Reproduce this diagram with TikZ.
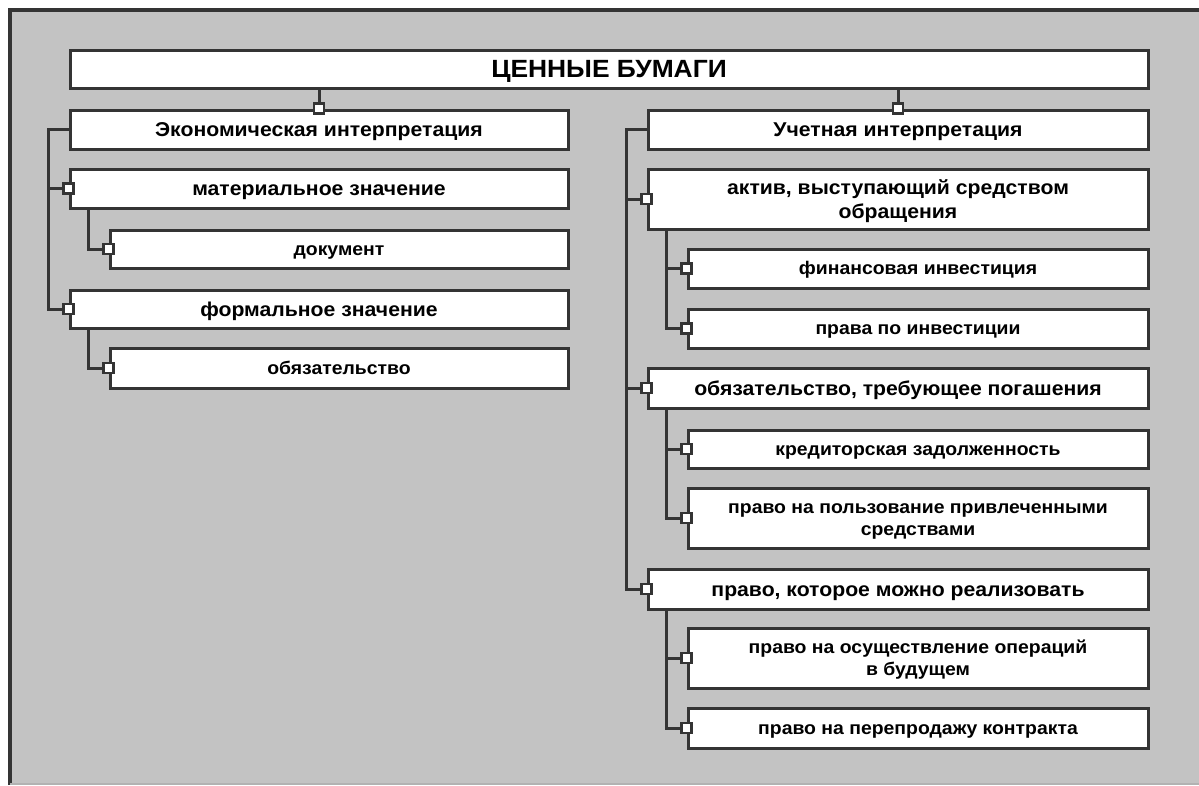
\documentclass[tikz,border=0pt]{standalone}
\usepackage{fontspec}
\setmainfont{Liberation Sans}[FakeStretch=1.06]
\definecolor{panel}{RGB}{195,195,195}
\definecolor{ink}{RGB}{52,52,52}
\newcommand{\tallstrut}{\rule[-0.25em]{0pt}{1.2em}}
\tikzset{
	box/.style={draw=ink, fill=white, line width=3pt, inner sep=0pt, align=center},
	big/.style={box, font=\fontsize{20}{24}\bfseries\selectfont},
	small/.style={box, font=\fontsize{18.3}{22}\bfseries\selectfont},
	port/.style={draw=ink, fill=white, line width=2.5pt, inner sep=0pt, minimum size=10pt},
	wire/.style={draw=ink, line width=3pt}
}
\begin{document}
\begin{tikzpicture}[x=1pt, y=-1pt]
		\useasboundingbox (0,0) rectangle (1199,785);
		\fill[white] (0,0) rectangle (1199,785);
		\fill[panel] (8,8) rectangle (1199,785);
		\draw[color=ink, line width=4pt] (10,785) -- (10,10) -- (1199,10);
		\draw[color=black!30, line width=2pt] (10,784) -- (1199,784);

		\node[box, minimum width=1078pt, minimum height=38pt, font=\fontsize{24.9}{28}\bfseries\selectfont] (title) at (609, 69) {\tallstrut ЦЕННЫЕ БУМАГИ};

		\node[big, minimum width=498pt, minimum height=39pt] (econ) at (319, 129.5) {\tallstrut Экономическая интерпретация};
		\node[big, minimum width=498pt, minimum height=39pt] (mat) at (319, 188.5) {\tallstrut материальное значение};
		\node[small, minimum width=458pt, minimum height=38pt] (doc) at (339, 249) {\tallstrut документ};
		\node[big, minimum width=498pt, minimum height=38pt] (form) at (319, 309) {\tallstrut формальное значение};
		\node[small, minimum width=458pt, minimum height=40pt] (oblig) at (339, 368) {\tallstrut обязательство};

		\node[big, minimum width=500pt, minimum height=39pt] (acc) at (898, 129.5) {\tallstrut Учетная интерпретация};
		\node[big, minimum width=500pt, minimum height=60pt] (asset) at (898, 199) {\tallstrut актив, выступающий средством\\\tallstrut обращения};
		\node[small, minimum width=460pt, minimum height=39pt] (fin) at (918, 268.5) {\tallstrut финансовая инвестиция};
		\node[small, minimum width=460pt, minimum height=39pt] (rights) at (918, 328.5) {\tallstrut права по инвестиции};
		\node[big, minimum width=500pt, minimum height=40pt] (liab) at (898, 388) {\tallstrut обязательство, требующее погашения};
		\node[small, minimum width=460pt, minimum height=38pt] (cred) at (918, 449) {\tallstrut кредиторская задолженность};
		\node[small, minimum width=460pt, minimum height=60pt] (use) at (918, 518) {\tallstrut право на пользование привлеченными\\\tallstrut средствами};
		\node[big, minimum width=500pt, minimum height=40pt] (real) at (898, 589) {\tallstrut право, которое можно реализовать};
		\node[small, minimum width=460pt, minimum height=60pt] (oper) at (918, 658) {\tallstrut право на осуществление операций\\\tallstrut в будущем};
		\node[small, minimum width=460pt, minimum height=40pt] (resale) at (918, 728) {\tallstrut право на перепродажу контракта};

		\draw[wire] (econ.north |- title.south) -- (econ.north);
		\draw[wire] (acc.north |- title.south) -- (acc.north);

		\draw[wire] (econ.west) -- ++(-20,0) coordinate (ltrunk) -- (ltrunk |- form.west) -- (form.west);
		\draw[wire] (ltrunk |- mat.west) -- (mat.west);
		\draw[wire] ([xshift=20pt]mat.south west) |- (doc.west);
		\draw[wire] ([xshift=20pt]form.south west) |- (oblig.west);

		\draw[wire] (acc.west) -- ++(-20,0) coordinate (rtrunk) -- (rtrunk |- real.west) -- (real.west);
		\draw[wire] (rtrunk |- asset.west) -- (asset.west);
		\draw[wire] (rtrunk |- liab.west) -- (liab.west);
		\draw[wire] ([xshift=20pt]asset.south west) |- (rights.west);
		\draw[wire] ([xshift=20pt]asset.south west |- fin.west) -- (fin.west);
		\draw[wire] ([xshift=20pt]liab.south west) |- (use.west);
		\draw[wire] ([xshift=20pt]liab.south west |- cred.west) -- (cred.west);
		\draw[wire] ([xshift=20pt]real.south west) |- (resale.west);
		\draw[wire] ([xshift=20pt]real.south west |- oper.west) -- (oper.west);

		\node[port] (p1) at (econ.north) {};
		\node[port] (p2) at (acc.north) {};
		\node[port] (p3) at (mat.west) {};
		\node[port] (p4) at (doc.west) {};
		\node[port] (p5) at (form.west) {};
		\node[port] (p6) at (oblig.west) {};
		\node[port] (p7) at (asset.west) {};
		\node[port] (p8) at (fin.west) {};
		\node[port] (p9) at (rights.west) {};
		\node[port] (p10) at (liab.west) {};
		\node[port] (p11) at (cred.west) {};
		\node[port] (p12) at (use.west) {};
		\node[port] (p13) at (real.west) {};
		\node[port] (p14) at (oper.west) {};
		\node[port] (p15) at (resale.west) {};
	\end{tikzpicture}
\end{document}
